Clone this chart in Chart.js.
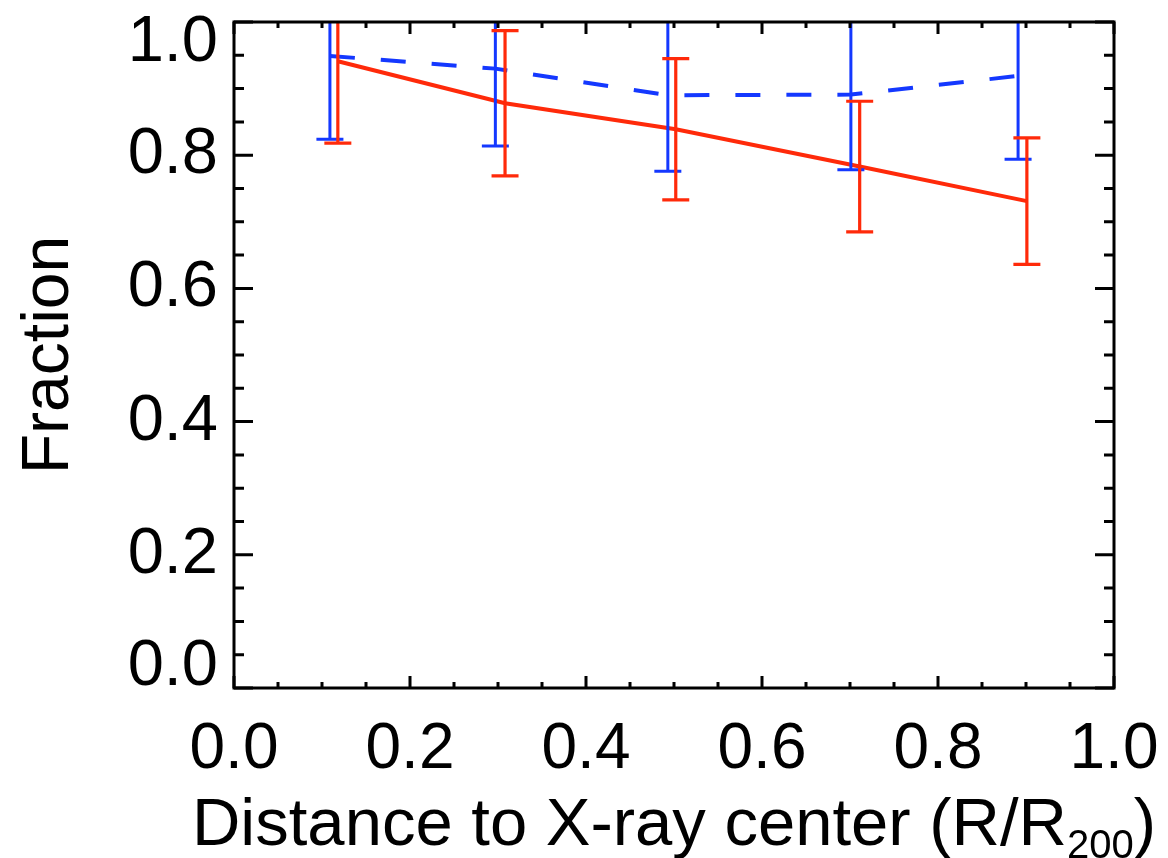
<!DOCTYPE html>
<html>
<head>
<meta charset="utf-8">
<script src="https://cdn.jsdelivr.net/npm/chart.js@4.4.0/dist/chart.umd.min.js"></script>
<style>
  html, body { margin: 0; padding: 0; background: #fff; }
  canvas { display: block; }
</style>
</head>
<body>
<canvas id="fracChart" width="1168" height="858"></canvas>
<script>
// values
var xBlue = [0.109, 0.297, 0.493, 0.701, 0.891];
var fracBlue = [0.949, 0.930, 0.890, 0.891, 0.919];
var errBlue = [0.125, 0.116, 0.114, 0.113, 0.125];

var xRed = [0.118, 0.308, 0.502, 0.711, 0.901];
var fracRed = [0.941, 0.878, 0.839, 0.783, 0.731];
var errRed = [0.123, 0.109, 0.106, 0.098, 0.095];

var xTicks = [0.0, 0.2, 0.4, 0.6, 0.8, 1.0];
var yTicks = [0.0, 0.2, 0.4, 0.6, 0.8, 1.0];

var BLUE = '#1438ff';
var RED = '#ff2a0a';
var FONT = '"Liberation Sans", Arial, Helvetica, sans-serif';

function pts(xs, ys) {
    return xs.map(function (x, i) { return {x: x, y: ys[i]}; });
}

// frame, ticks on all four sides, error bars and the x title with subscript
var idlFrame = {
    id: 'idlFrame',
    afterDatasetsDraw: function (chart) {
        var ctx = chart.ctx;
        var a = chart.chartArea;
        var sx = chart.scales.x, sy = chart.scales.y;

        // error bars
        ctx.save();
        ctx.beginPath();
        ctx.rect(a.left, a.top, a.right - a.left, a.bottom - a.top);
        ctx.clip();
        [[xBlue, fracBlue, errBlue, BLUE, 3], [xRed, fracRed, errRed, RED, 3.2]].forEach(function (s) {
            ctx.strokeStyle = s[3];
            ctx.lineWidth = s[4];
            ctx.setLineDash([]);
            for (var i = 0; i < s[0].length; i++) {
                var px = sx.getPixelForValue(s[0][i]);
                var top = sy.getPixelForValue(s[1][i] + s[2][i]);
                var bot = sy.getPixelForValue(s[1][i] - s[2][i]);
                ctx.beginPath();
                ctx.moveTo(px, top); ctx.lineTo(px, bot);
                ctx.moveTo(px - 13.5, top); ctx.lineTo(px + 13.5, top);
                ctx.moveTo(px - 13.5, bot); ctx.lineTo(px + 13.5, bot);
                ctx.stroke();
            }
        });
        ctx.restore();

        // box + ticks
        ctx.save();
        ctx.strokeStyle = '#000';
        ctx.lineWidth = 3;
        ctx.strokeRect(a.left, a.top, a.right - a.left, a.bottom - a.top);
        ctx.beginPath();
        for (var k = 0; k <= 20; k++) {
            var v = k * 0.05;
            var major = (k % 4 === 0);
            var px = sx.getPixelForValue(v);
            var lx = major ? 12 : 6;
            ctx.moveTo(px, a.bottom); ctx.lineTo(px, a.bottom - lx);
            ctx.moveTo(px, a.top); ctx.lineTo(px, a.top + lx);
            var py = sy.getPixelForValue(v);
            var ly = major ? 19 : 10;
            ctx.moveTo(a.left, py); ctx.lineTo(a.left + ly, py);
            ctx.moveTo(a.right, py); ctx.lineTo(a.right - ly, py);
        }
        ctx.stroke();

        // x axis title
        var main = 'Distance to X-ray center (R/R';
        var sub = '200';
        var close = ')';
        ctx.fillStyle = '#000';
        ctx.textBaseline = 'alphabetic';
        ctx.textAlign = 'left';
        ctx.font = '67px ' + FONT;
        var w1 = ctx.measureText(main).width;
        var w3 = ctx.measureText(close).width;
        ctx.font = '40px ' + FONT;
        var w2 = ctx.measureText(sub).width;
        var x0 = (a.left + a.right) / 2 - (w1 + w2 + w3) / 2;
        var base = 845;
        ctx.font = '67px ' + FONT;
        ctx.fillText(main, x0, base);
        ctx.font = '40px ' + FONT;
        ctx.fillText(sub, x0 + w1, base + 13);
        ctx.font = '67px ' + FONT;
        ctx.fillText(close, x0 + w1 + w2, base);
        ctx.restore();
    }
};

new Chart(document.getElementById('fracChart'), {
    type: 'line',
    data: {
        datasets: [{
            label: 'blue',
            data: pts(xBlue, fracBlue),
            borderColor: BLUE,
            borderWidth: 4,
            borderDash: [25, 26],
            pointRadius: 0,
            tension: 0,
            fill: false
        }, {
            label: 'red',
            data: pts(xRed, fracRed),
            borderColor: RED,
            borderWidth: 4,
            pointRadius: 0,
            tension: 0,
            fill: false
        }]
    },
    options: {
        responsive: false,
        animation: false,
        devicePixelRatio: 1,
        layout: { padding: { top: 22, right: 54, left: 0, bottom: 0 } },
        plugins: {
            legend: { display: false },
            tooltip: { enabled: false }
        },
        scales: {
            x: {
                type: 'linear',
                min: 0, max: 1,
                afterBuildTicks: function (scale) {
                    scale.ticks = xTicks.map(function (v) { return {value: v}; });
                },
                grid: { display: false, drawTicks: false },
                border: { display: false },
                ticks: {
                    color: '#000',
                    padding: 24,
                    font: { family: FONT, size: 64 },
                    maxRotation: 0,
                    autoSkip: false,
                    callback: function (v) { return v.toFixed(1); }
                },
                afterFit: function (scale) {
                    scale.height = 170;
                    scale.paddingLeft = 0; scale.paddingRight = 0;
                    scale.paddingTop = 0; scale.paddingBottom = 0;
                }
            },
            y: {
                min: 0, max: 1,
                afterBuildTicks: function (scale) {
                    scale.ticks = yTicks.map(function (v) { return {value: v}; });
                },
                grid: { display: false, drawTicks: false },
                border: { display: false },
                ticks: {
                    color: '#000',
                    padding: 16,
                    autoSkip: false,
                    font: { family: FONT, size: 65, lineHeight: 0.65 },
                    callback: function (v) {
                        var s = v.toFixed(1);
                        if (v === 1) return ['', s];
                        if (v === 0) return [s, ''];
                        return s;
                    }
                },
                title: {
                    display: true,
                    text: 'Fraction',
                    color: '#000',
                    padding: 10,
                    font: { family: FONT, size: 66 }
                },
                afterFit: function (scale) {
                    scale.width = 234;
                    scale.paddingLeft = 0; scale.paddingRight = 0;
                    scale.paddingTop = 0; scale.paddingBottom = 0;
                }
            }
        }
    },
    plugins: [idlFrame]
});
</script>
</body>
</html>
